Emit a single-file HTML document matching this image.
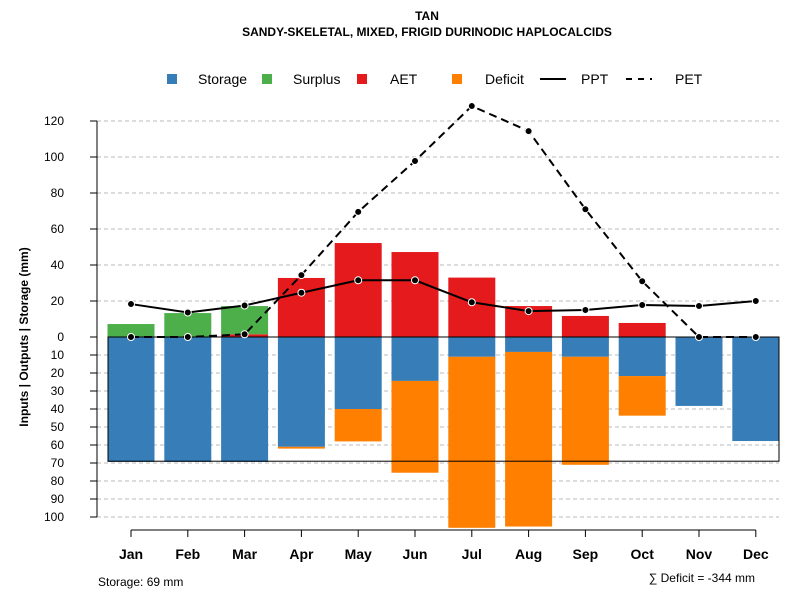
<!DOCTYPE html>
<html><head><meta charset="utf-8"><style>
body{margin:0;background:#fff;font-family:"Liberation Sans",sans-serif}
</style></head><body>
<svg id="c" width="800" height="600" xmlns="http://www.w3.org/2000/svg" font-family="Liberation Sans, sans-serif"></svg>
<script>
const months=["Jan","Feb","Mar","Apr","May","Jun","Jul","Aug","Sep","Oct","Nov","Dec"];
const surplus=[7.2,13.3,15.7,0,0,0,0,0,0,0,0,0];
const aet=[0,0,1.5,32.8,52.2,47.2,33,17.2,11.7,7.8,0,0];
const storage=[69.4,69.4,69.4,61,40,24.4,11,8.3,11,21.7,38.3,57.8];
const deficit=[0,0,0,1,18,51,95,97,60,22,0,0];
const ppt=[18.3,13.6,17.5,24.6,31.5,31.5,19.3,14.4,15,17.8,17.2,20];
const pet=[0,0,1.5,34.4,69.5,97.8,128.3,114.4,71,31,0,0];
const upTicks=[0,20,40,60,80,100,120];
const downTicks=[10,20,30,40,50,60,70,80,90,100];
const maxStorage=69;
const NS="http://www.w3.org/2000/svg";
const svg=document.getElementById('c');
const y0=337,k=1.8;
const yUp=v=>y0-v*k, yDn=v=>y0+v*k;
const xc=i=>131+i*56.8, bw=47;
function el(t,a,txt){const e=document.createElementNS(NS,t);for(const n in a)e.setAttribute(n,a[n]);if(txt!==undefined)e.textContent=txt;svg.appendChild(e);return e;}
// title
let t=el('text',{x:427,y:20,'text-anchor':'middle','font-size':12,'font-weight':'bold'},'TAN');


t=el('text',{x:427,y:36,'text-anchor':'middle','font-size':12,'font-weight':'bold'},'SANDY-SKELETAL, MIXED, FRIGID DURINODIC HAPLOCALCIDS');


// grid
upTicks.forEach(v=>{if(v>0){const g=el('line',{x1:97,x2:779,y1:yUp(v),y2:yUp(v),stroke:'#bbb','stroke-dasharray':'4,3'});}});
downTicks.forEach(v=>{const g=el('line',{x1:97,x2:779,y1:yDn(v),y2:yDn(v),stroke:'#bbb','stroke-dasharray':'4,3'});});
// bars
months.forEach((m,i)=>{
 const x=xc(i)-bw/2;
 let r=el('rect',{x:x,y:yUp(aet[i]),width:bw,height:aet[i]*k,fill:'#e41a1c'});
 
 
 r=el('rect',{x:x,y:yUp(aet[i]+surplus[i]),width:bw,height:surplus[i]*k,fill:'#4daf4a'});
 
 
 r=el('rect',{x:x,y:y0,width:bw,height:storage[i]*k,fill:'#377eb8'});
 
 
 r=el('rect',{x:x,y:yDn(storage[i]),width:bw,height:deficit[i]*k,fill:'#ff7f00'});
 
 
});
let b=el('rect',{x:108,y:y0,width:671,height:maxStorage*k,fill:'none',stroke:'#000','stroke-width':1});


// axes
let a=el('line',{x1:97,x2:97,y1:yUp(120),y2:yDn(100),stroke:'#000'});


upTicks.forEach(v=>{el('line',{x1:90,x2:97,y1:yUp(v),y2:yUp(v),stroke:'#000'});const tt=el('text',{x:64,y:yUp(v)+4,'text-anchor':'end','font-size':12},v);});
downTicks.forEach(v=>{el('line',{x1:90,x2:97,y1:yDn(v),y2:yDn(v),stroke:'#000'});const tt=el('text',{x:64,y:yDn(v)+4,'text-anchor':'end','font-size':12},v);});
t=el('text',{transform:'translate(28,337) rotate(-90)','text-anchor':'middle','font-size':12,'font-weight':'bold'},'Inputs | Outputs | Storage    (mm)');


a=el('line',{x1:xc(0),x2:xc(11),y1:530,y2:530,stroke:'#000'});


months.forEach((m,i)=>{el('line',{x1:xc(i),x2:xc(i),y1:530,y2:537,stroke:'#000'});const tt=el('text',{x:xc(i),y:559,'text-anchor':'middle','font-size':14,'font-weight':'bold'},m);});
// lines
function line(arr,dash,name){
 const p=el('polyline',{points:arr.map((v,i)=>xc(i)+','+yUp(v)).join(' '),fill:'none',stroke:'#000','stroke-width':2,'stroke-dasharray':dash});
 
 
 arr.forEach((v,i)=>{const c=el('circle',{cx:xc(i),cy:yUp(v),r:3.5,fill:'#000',stroke:'#fff','stroke-width':1});});
}
line(ppt,'none','ppt');
line(pet,'8,5','pet');
// legend
const lg=[['Storage','#377eb8',167,198],['Surplus','#4daf4a',262,293],['AET','#e41a1c',357,390],['Deficit','#ff7f00',452,485]];
lg.forEach(l=>{const r=el('rect',{x:l[2],y:74,width:10,height:10,fill:l[1]});const tt=el('text',{x:l[3],y:84,'font-size':14},l[0]);});
el('line',{x1:540,x2:566,y1:79,y2:79,stroke:'#000','stroke-width':2});
t=el('text',{x:581,y:84,'font-size':14},'PPT');
el('line',{x1:626,x2:652,y1:79,y2:79,stroke:'#000','stroke-width':2,'stroke-dasharray':'6,6'});
t=el('text',{x:675,y:84,'font-size':14},'PET');
t=el('text',{x:98,y:586,'font-size':12},'Storage: '+maxStorage+' mm');
const sumDef=Math.round(deficit.reduce((s,v)=>s+v,0));
t=el('text',{x:755,y:582,'text-anchor':'end','font-size':12},'∑ Deficit = -'+sumDef+' mm');
</script>
</body></html>
